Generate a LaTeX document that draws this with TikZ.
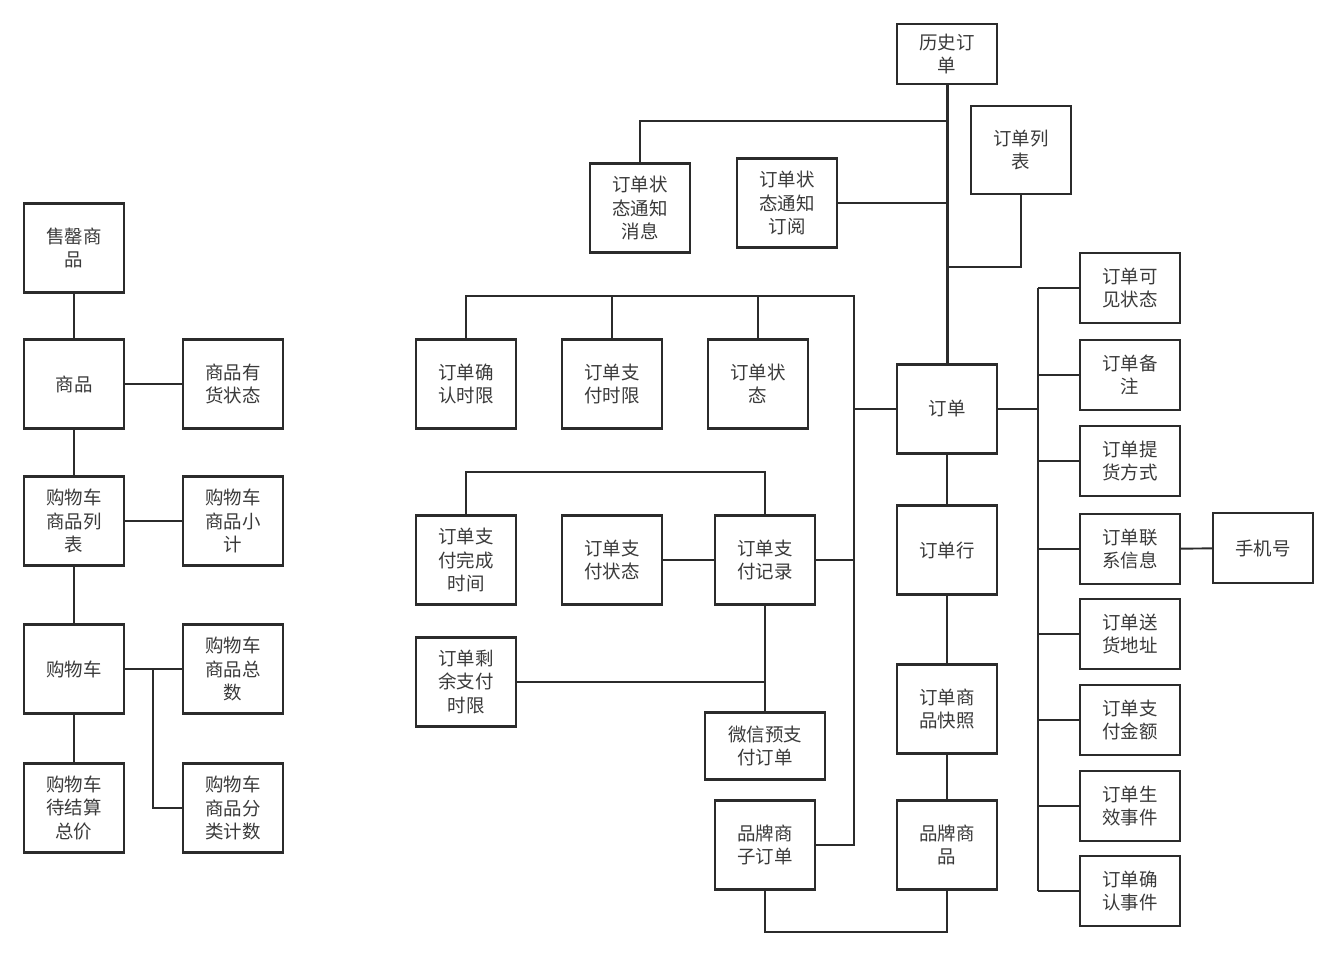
\documentclass[tikz,border=0pt]{standalone}
\usepackage{fontspec}
\newfontfamily\cjk{Noto Sans CJK SC}
\usepackage{xcolor}
\definecolor{ink}{HTML}{2B2B2B}
\definecolor{lettering}{HTML}{3A3A3A}
\usetikzlibrary{calc}
\tikzset{
  box/.style  ={draw=ink,line width=1.4pt,fill=white,minimum width=2cm,
                minimum height=1.78cm,align=center,inner sep=2pt,text=lettering,
                font=\cjk\fontsize{10.5}{13.3}\selectfont},
  flat/.style ={box,minimum height=1.4cm},
  wire/.style ={draw=ink,line width=1.1pt},
  bus/.style  ={draw=ink,line width=1.7pt},
}

\begin{document}
\begin{tikzpicture}[x=0.02cm,y=-0.02cm]
\useasboundingbox (0,0) rectangle (1324,963);

%================= shopping cart
\node[box] (sold)     at (74,248)  {售罄商\\品};
\node[box] (goods)    at (74,384)  {商品};
\node[box] (stock)    at (233,384) {商品有\\货状态};
\node[box] (cartlist) at (74,521)  {购物车\\商品列\\表};
\node[box] (subtotal) at (233,521) {购物车\\商品小\\计};
\node[box] (cart)     at (74,669)  {购物车};
\node[box] (count)    at (233,669) {购物车\\商品总\\数};
\node[box] (total)    at (74,808)  {购物车\\待结算\\总价};
\node[box] (catcount) at (233,808) {购物车\\商品分\\类计数};
\coordinate (cartfork) at (153,669);

\draw[wire] (sold) -- (goods) -- (cartlist) -- (cart) -- (total);
\draw[wire] (goods) -- (stock);
\draw[wire] (cartlist) -- (subtotal);
\draw[wire] (cart) -- (count);
\draw[wire] (cartfork) |- (catcount);

%================= order history
\node[box,minimum height=1.2cm] (hist) at (947,54) {历史订\\单};
\node[box] (msg)   at (640,208)  {订单状\\态通知\\消息};
\node[box] (subsc) at (787,203)  {订单状\\态通知\\订阅};
\node[box,minimum height=1.76cm] (olist) at (1021,150) {订单列\\表};
\node[box] (order) at (947,409)  {订单};
\coordinate (histfork) at (947,121);
\coordinate (listjoin) at (947,267);

\draw[bus]  (hist) -- (order);
\draw[wire] (histfork) -| (msg);
\draw[wire] (subsc.east) -- (subsc.east -| order);
\draw[wire] (olist) |- (listjoin);

%================= order limits and state
\node[box] (cfmlimit) at (466,384) {订单确\\认时限};
\node[box] (paylimit) at (612,384) {订单支\\付时限};
\node[box] (state)    at (758,384) {订单状\\态};
\node[box] (brandsub) at (765,845) {品牌商\\子订单};
\coordinate (ltop) at (854,296);

\draw[wire] (cfmlimit) |- (ltop) |- (brandsub);
\draw[wire] (paylimit.north) -- (paylimit.north |- ltop);
\draw[wire] (state.north) -- (state.north |- ltop);
\draw[bus]  (order.west) -- (order.west -| ltop);

%================= payment
\node[box] (paydone)  at (466,560) {订单支\\付完成\\时间};
\node[box] (paystate) at (612,560) {订单支\\付状态};
\node[box] (payrec)   at (765,560) {订单支\\付记录};
\node[box] (remain)   at (466,682) {订单剩\\余支付\\时限};
\node[box,minimum width=2.4cm,minimum height=1.34cm] (wxpre) at (765,746) {微信预支\\付订单};
\coordinate (payloop) at (615,472);

\draw[wire] (paydone) |- (payloop) -| (payrec);
\draw[wire] (paystate) -- (payrec);
\draw[wire] (payrec.east) -- (payrec.east -| ltop);
\draw[wire] (payrec) -- (wxpre);
\draw[wire] (remain) -- (remain -| payrec);

%================= order lines
\node[box] (oline) at (947,550) {订单行};
\node[box] (snap)  at (947,709) {订单商\\品快照};
\node[box] (brand) at (947,845) {品牌商\\品};
\coordinate (brandloop) at (856,932);

\draw[wire] (order) -- (oline) -- (snap) -- (brand);
\draw[wire] (brandsub) |- (brandloop) -| (brand);

%================= order attributes
\coordinate (rtop) at (1038,288);
\coordinate (rbot) at (1038,891);
\foreach \nm/\y/\txt in {vis/288/订单可\\见状态, memo/375/订单备\\注,
    pickup/461/订单提\\货方式, contact/549/订单联\\系信息,
    addr/634/订单送\\货地址, amount/720/订单支\\付金额,
    effect/806/订单生\\效事件, confirm/891/订单确\\认事件}
 {\node[flat] (\nm) at (1130,\y) {\txt};
  \draw[wire] (\nm.west) -- (\nm.west -| rtop);}
\node[flat] (phone) at (1263,548) {手机号};

\draw[wire] (rtop) -- (rbot);
\draw[bus]  (order.east) -- (order.east -| rtop);
\draw[wire] (contact) -- (phone);
\end{tikzpicture}
\end{document}
